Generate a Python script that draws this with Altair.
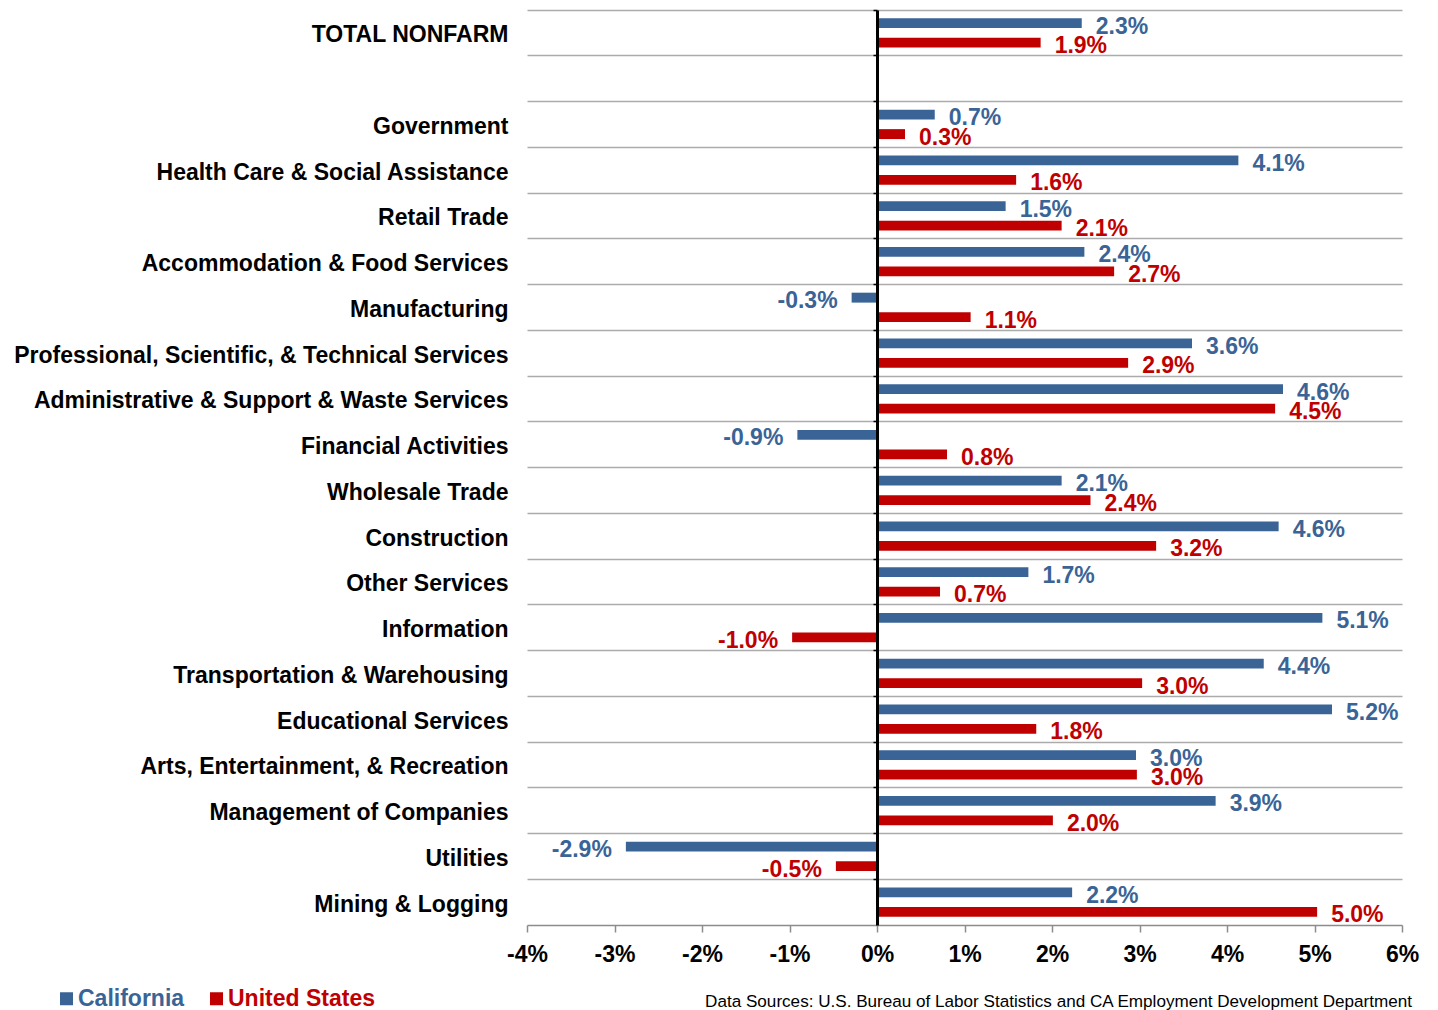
import altair as alt
import pandas as pd

BLUE = "#3A6496"
RED = "#C00000"

categories = [
    "TOTAL NONFARM", " ", "Government", "Health Care & Social Assistance", "Retail Trade",
    "Accommodation & Food Services", "Manufacturing",
    "Professional, Scientific, & Technical Services",
    "Administrative & Support & Waste Services", "Financial Activities", "Wholesale Trade",
    "Construction", "Other Services", "Information", "Transportation & Warehousing",
    "Educational Services", "Arts, Entertainment, & Recreation", "Management of Companies",
    "Utilities", "Mining & Logging",
]
industries = [c for c in categories if c.strip()]
series = ["California", "United States"]

ca_values = [2.34, 0.66, 4.13, 1.47, 2.37, -0.29, 3.60, 4.64, -0.91, 2.11, 4.59, 1.73,
             5.09, 4.42, 5.20, 2.96, 3.87, -2.87, 2.23]
us_values = [1.87, 0.32, 1.59, 2.11, 2.71, 1.07, 2.87, 4.55, 0.80, 2.44, 3.19, 0.72,
             -0.97, 3.03, 1.82, 2.97, 2.01, -0.47, 5.03]
ca_labels = ["2.3%", "0.7%", "4.1%", "1.5%", "2.4%", "-0.3%", "3.6%", "4.6%", "-0.9%", "2.1%",
             "4.6%", "1.7%", "5.1%", "4.4%", "5.2%", "3.0%", "3.9%", "-2.9%", "2.2%"]
us_labels = ["1.9%", "0.3%", "1.6%", "2.1%", "2.7%", "1.1%", "2.9%", "4.5%", "0.8%", "2.4%",
             "3.2%", "0.7%", "-1.0%", "3.0%", "1.8%", "3.0%", "2.0%", "-0.5%", "5.0%"]
x_ticks = [-4, -3, -2, -1, 0, 1, 2, 3, 4, 5, 6]

rows = []
for name, cv, uv, cl, ul in zip(industries, ca_values, us_values, ca_labels, us_labels):
    rows.append({"category": name, "series": "California", "value": cv, "label": cl})
    rows.append({"category": name, "series": "United States", "value": uv, "label": ul})
df = pd.DataFrame(rows)

y_scale = alt.Scale(domain=categories, paddingInner=0, paddingOuter=0)
yoff_scale = alt.Scale(domain=series, paddingInner=0.49, paddingOuter=0.42)
color_scale = alt.Scale(domain=series, range=[BLUE, RED])
x_scale = alt.Scale(domain=[-4, 6], nice=False, zero=False)

main_y_axis = alt.Axis(
    title=None, orient="left", bandPosition=0, grid=True, gridColor="#ABABAB",
    gridWidth=1.5, ticks=False, domain=False, labelFontSize=23, labelFontWeight="bold",
    labelColor="black", labelPadding=19, labelLimit=700, labelOffset=2.5,
)
zero_axis = alt.Axis(
    title=None, orient="left", offset=-350, labels=False, grid=False, domain=True,
    domainColor="black", domainWidth=3, ticks=True, tickColor="black",
    tickSize=4, tickWidth=1.5, bandPosition=0, zindex=2,
)
x_axis = alt.Axis(
    values=x_ticks, labelExpr="datum.value + '%'", title=None, grid=False,
    domainColor="#8C8C8C", domainWidth=1.5, tickColor="#8C8C8C", tickWidth=1.5,
    tickSize=7, labelFontSize=23, labelFontWeight="bold", labelPadding=11,
    labelColor="black", labelFlush=False, labelOverlap=False,
)

legend = alt.Legend(
    title=None, orient="none", legendX=-472, legendY=977, direction="horizontal",
    padding=0, symbolType="square", symbolSize=169, symbolStrokeWidth=0, symbolOpacity=1,
    labelFontSize=23, labelFontWeight="bold",
    labelColor=alt.ExprRef("datum.label == 'California' ? '%s' : '%s'" % (BLUE, RED)),
    labelOffset=0, columnPadding=20,
)

bars = alt.Chart(df).mark_bar().encode(
    x=alt.X("value:Q", scale=x_scale, axis=x_axis),
    y=alt.Y("category:N", scale=y_scale, axis=main_y_axis),
    yOffset=alt.YOffset("series:N", scale=yoff_scale),
    color=alt.Color("series:N", scale=color_scale, legend=legend),
)

text_pos = alt.Chart(df).transform_filter("datum.value >= 0").mark_text(
    align="left", baseline="middle", dx=14, dy=3.5, fontSize=23, fontWeight="bold"
).encode(
    x=alt.X("value:Q", scale=x_scale),
    y=alt.Y("category:N", scale=y_scale, axis=zero_axis),
    yOffset=alt.YOffset("series:N", scale=yoff_scale),
    color=alt.Color("series:N", scale=color_scale, legend=None),
    text="label:N",
)

text_neg = alt.Chart(df).transform_filter("datum.value < 0").mark_text(
    align="right", baseline="middle", dx=-14, dy=3.5, fontSize=23, fontWeight="bold"
).encode(
    x=alt.X("value:Q", scale=x_scale),
    y=alt.Y("category:N", scale=y_scale, axis=None),
    yOffset=alt.YOffset("series:N", scale=yoff_scale),
    color=alt.Color("series:N", scale=color_scale, legend=None),
    text="label:N",
)

chart = alt.layer(bars, text_pos, text_neg).resolve_axis(y="independent").properties(
    width=875,
    height=915,
    autosize=alt.AutoSizeParams(type="none"),
    padding={"left": 519, "top": 2, "right": 20, "bottom": 85},
    title=alt.TitleParams(
        "Data Sources:  U.S. Bureau of Labor Statistics and CA Employment Development Department",
        orient="bottom", anchor="end", frame="group", offset=-18, fontSize=17.1,
        fontWeight="normal", color="black", dx=10,
    ),
).configure(font="Liberation Sans").configure_view(stroke=None)

chart.save("out.html", embed_options={"renderer": "svg", "actions": False})
